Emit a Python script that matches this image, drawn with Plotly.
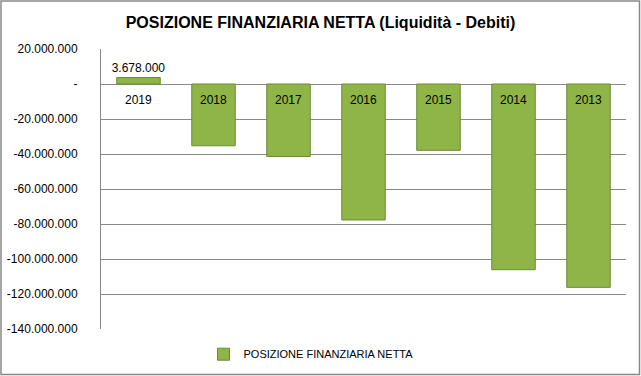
import plotly.graph_objects as go

categories = ["2019", "2018", "2017", "2016", "2015", "2014", "2013"]
values = [3678000, -35300000, -41400000, -77700000, -37900000, -106100000, -116200000]
series_name = "POSIZIONE FINANZIARIA NETTA"
title_text = "POSIZIONE FINANZIARIA NETTA (Liquidità - Debiti)"
tick_values = [20000000, 0, -20000000, -40000000, -60000000, -80000000, -100000000, -120000000, -140000000]
tick_labels = ["20.000.000", "-", "-20.000.000", "-40.000.000", "-60.000.000", "-80.000.000",
               "-100.000.000", "-120.000.000", "-140.000.000"]

def fmt(v):
    return f"{v:,}".replace(",", ".")

bar_text = [fmt(v) if v > 0 else "" for v in values]

W, H = 641, 376
ML, MR, MT, MB = 101, 15, 49, 47
FONT = "Liberation Sans"

fig = go.Figure()
fig.add_trace(go.Bar(
    x=categories, y=values, name=series_name,
    marker=dict(color="#8FB548", line=dict(color="#6B8A35", width=1)),
    text=bar_text, textposition="outside", cliponaxis=False, constraintext="none",
    textfont=dict(family=FONT, size=12, color="#000000"),
    outsidetextfont=dict(family=FONT, size=12, color="#000000"),
    width=0.58,
))

annotations = []
for i, c in enumerate(categories):
    annotations.append(dict(x=i, y=0, xref="x", yref="y", text=c, showarrow=False,
                            yanchor="top", yshift=-7,
                            font=dict(family=FONT, size=12, color="#000000")))

pw = W - ML - MR
ph = H - MT - MB
shapes = [dict(type="rect", xref="paper", yref="paper",
               x0=-(ML - 1) / pw, x1=1 + (MR - 1.5) / pw,
               y0=-(MB - 1.5) / ph, y1=1 + (MT - 1) / ph,
               line=dict(color="#888888", width=1.5), fillcolor="rgba(0,0,0,0)", layer="below")]

fig.update_layout(
    width=W, height=H,
    margin=dict(l=ML, r=MR, t=MT, b=MB, autoexpand=False),
    paper_bgcolor="#FFFFFF", plot_bgcolor="#FFFFFF",
    title=dict(text="<b>" + title_text + "</b>", x=0.5, xref="container", xanchor="center",
               y=1 - 22 / H, yref="container", yanchor="middle", automargin=False,
               font=dict(family=FONT, size=16, color="#000000")),
    font=dict(family=FONT, size=12, color="#000000"),
    showlegend=True,
    legend=dict(orientation="h", x=0.40, xanchor="center", y=-0.09, yanchor="middle",
                font=dict(family=FONT, size=11, color="#000000"),
                bgcolor="rgba(0,0,0,0)"),
    xaxis=dict(type="category", range=[-0.5, len(categories) - 0.5], showticklabels=False,
               showgrid=False, zeroline=False, showline=False, ticks="", automargin=False),
    yaxis=dict(range=[-140000000, 20000000], tickvals=tick_values, ticktext=tick_labels,
               showgrid=True, gridcolor="#888888", gridwidth=1,
               zeroline=True, zerolinecolor="#888888", zerolinewidth=1,
               showline=True, linecolor="#888888", linewidth=1,
               ticks="", ticklabelstandoff=20, automargin=False,
               tickfont=dict(family=FONT, size=12, color="#000000")),
    annotations=annotations,
    shapes=shapes,
    bargap=0.42,
)

fig.write_html("out.html", config={"displayModeBar": False},
               post_script="document.body.style.margin='0';document.body.style.padding='0';")
